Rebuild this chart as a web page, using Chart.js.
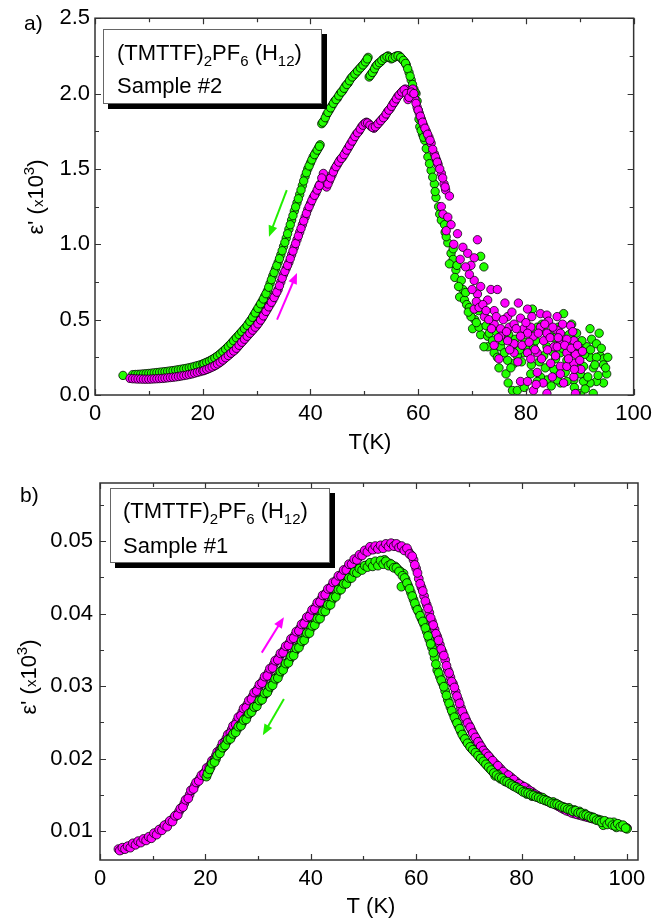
<!DOCTYPE html>
<html><head><meta charset="utf-8">
<script src="https://cdn.jsdelivr.net/npm/chart.js@4.4.1/dist/chart.umd.min.js"></script>
<style>
html,body{margin:0;padding:0;background:#fff;}
#wrap{position:relative;width:658px;height:920px;overflow:hidden;}
canvas{position:absolute;left:0;}
#c1{top:0;} #c2{top:460px;}
</style></head><body>
<div id="wrap"><canvas id="c1" width="658" height="460"></canvas><canvas id="c2" width="658" height="460"></canvas></div>
<script>
// ---------- DATA (T in K, eps' in units of 10^3) ----------
// Panel a) Sample #2, cooling (green)
const s2Cooling = [[5.2,.13],[7,.135],[7.5,.136],[8,.137],[8.5,.138],[9,.14],[9.5,.141],[10,.143],[10.5,.145],[11,.147],[11.5,.149],[12,.151],[12.5,.153],[13,.155],[13.5,.157],[14,.16],[14.5,.162],[15,.165],[15.5,.168],[16,.171],[16.5,.174],[17,.177],[17.5,.181],[18,.185],[18.5,.19],[19,.195],[19.5,.2],[20,.206],[20.5,.213],[21,.221],[21.5,.23],[22,.24],[22.5,.252],[23,.265],[23.5,.28],[24,.296],[24.5,.313],[25,.331],[25.5,.35],[26,.37],[26.5,.39],[27,.41],[27.5,.43],[28,.45],[28.5,.475],[29,.5],[29.5,.53],[30,.56],[30.5,.59],[31,.62],[31.5,.655],[32,.69],[32.5,.74],[33,.79],[33.5,.835],[34,.88],[34.5,.93],[35,.985],[35.5,1.04],[36,1.1],[36.5,1.16],[37,1.22],[37.5,1.275],[38,1.33],[38.5,1.39],[39,1.45],[39.5,1.5],[40,1.54],[40.5,1.58],[41,1.61],[41.5,1.64],[41.8,1.66],[42.1,1.8],[42.5,1.82],[43,1.86],[43.5,1.89],[44,1.92],[44.5,1.95],[45,1.97],[45.5,2.0],[46,2.02],[46.5,2.05],[47,2.07],[47.5,2.1],[48,2.12],[48.5,2.14],[49,2.16],[49.5,2.18],[50,2.2],[50.4,2.22],[50.7,2.24],[50.9,2.11],[51.3,2.13],[51.7,2.15],[52.1,2.18],[52.6,2.2],[53,2.21],[53.5,2.23],[54,2.24],[54.4,2.25],[55,2.23],[55.5,2.24],[56,2.25],[56.5,2.25],[57,2.23],[57.5,2.21],[57.8,2.19],[58.3,2.14],[58.7,2.09],[59.2,2.03],[59.6,2.0],[60,1.89],[60.3,1.78],[60.8,1.73],[61.2,1.69],[61.8,1.58],[62.4,1.49],[63,1.4],[63.3,1.31],[63.8,1.25],[64,1.2],[64.3,1.16],[64.9,1.13],[65,1.08],[65.5,1.01],[66.1,.94],[66.5,.9],[65.8,.87],[67,.83],[66.8,.78],[68,.76],[68.3,.7],[67.7,.65],[68.6,.63],[69,.6],[69.5,.58],[70.5,.5],[71.6,.92],[72.2,.85],[69.8,.52],[70.1,.44],[71.6,.4],[72.9,.32],[74.1,.28],[75,.18],[76.3,.14],[77.5,.03],[78.4,.03],[77.8,.21],[79.6,.28],[80.3,.32],[81.2,.57],[82.1,.45],[83.3,.43],[83.9,.32],[85.2,.38],[86.4,.36],[87,.54],[88.5,.47],[91.9,.44],[92.2,.37],[93.1,.34],[91.3,.32],[90.1,.3],[91.9,.25],[93.8,.26],[94.4,.24],[94.4,.2],[92.5,.18],[95,.14],[94.4,.08],[93.1,.09],[91.9,.08],[90.7,.09],[90.1,.14],[88.9,.1],[87.6,.09],[86.4,.08],[85.2,.17],[83.9,.1],[82.7,.12],[82.1,.09],[80.9,.14],[90.1,.01],[92.5,.01],[83.3,.26],[81.4,.32],[78.4,.26],[76.6,.23],[74.7,.25],[72.9,.39],[72.2,.32],[71.3,.45],[75.3,.32],[77.8,.32],[86.4,.28],[87.6,.23],[88.9,.28],[90.7,.19],[93.1,.25]];
const s2CoolingMore = [[20.25,.209],[20.75,.217],[21.25,.225],[21.75,.235],[22.25,.246],[22.75,.258],[23.25,.272],[23.75,.288],[24.25,.304],[24.75,.322],[25.25,.34],[25.75,.36],[26.25,.38],[26.75,.4],[27.25,.42],[27.75,.44],[28.25,.462],[28.75,.488],[29.25,.515],[29.75,.545],[30.25,.575],[30.75,.605],[31.25,.637],[31.75,.672],[32.25,.715],[32.75,.765],[33.25,.812],[33.75,.858],[34.25,.905],[34.75,.957],[35.25,1.012],[35.75,1.07],[36.25,1.13],[36.75,1.19],[37.25,1.248],[37.75,1.302],[38.25,1.36],[38.75,1.42],[39.25,1.475],[39.75,1.52],[40.25,1.56],[40.75,1.595],[41.25,1.625],[41.65,1.65],[42.3,1.81],[42.75,1.84],[43.25,1.875],[43.75,1.905],[44.25,1.935],[44.75,1.96],[45.25,1.985],[45.75,2.01],[46.25,2.035],[46.75,2.06],[47.25,2.085],[47.75,2.11],[48.25,2.13],[48.75,2.15],[49.25,2.17],[49.75,2.19],[50.2,2.21],[50.55,2.23],[51.1,2.12],[51.5,2.14],[51.9,2.165],[52.35,2.19],[52.8,2.205],[53.25,2.22],[53.75,2.235],[54.2,2.245],[54.7,2.24],[55.25,2.235],[55.75,2.245],[56.25,2.25],[56.75,2.24],[57.25,2.22],[57.65,2.2],[58.05,2.165],[58.5,2.115],[58.95,2.06],[59.4,2.01],[59.8,1.95],[60.15,1.83],[60.55,1.755],[61,1.71],[61.5,1.635],[62.1,1.535],[62.7,1.445],[63.15,1.35],[65.2,1.05],[66.5,.97],[67.2,.86],[67.5,.72],[68.8,.68],[69.3,.55],[70.8,.48],[71.2,.56],[72.6,.46],[73.2,.41],[73.8,.36],[74.5,.42],[75.6,.36],[76,.28],[76.8,.4],[77.2,.18],[78,.37],[78.8,.3],[79.2,.22],[79.8,.35],[80.6,.42],[81,.2],[81.8,.36],[82.5,.22],[83,.47],[83.6,.18],[84.3,.4],[84.8,.29],[85.5,.24],[86,.45],[86.8,.31],[87.3,.15],[88,.4],[88.2,.2],[88.7,.33],[89.4,.41],[89.6,.18],[90.4,.36],[90.9,.27],[91.5,.12],[92,.3],[92.8,.2],[93.4,.13],[93.6,.41],[94,.31],[94.8,.18],[95.2,.25],[89,.05],[91,.04],[85.8,.1],[84.7,.06],[79.7,.05],[76.7,.08]];
// Panel a) Sample #2, warming (magenta)
const s2Warming = [[6.5,.11],[7,.108],[7.5,.107],[8,.106],[8.5,.106],[9,.105],[9.5,.105],[10,.105],[10.5,.106],[11,.107],[11.5,.108],[12,.109],[12.5,.11],[13,.112],[13.5,.114],[14,.116],[14.5,.118],[15,.12],[15.5,.123],[16,.126],[16.5,.129],[17,.132],[17.5,.136],[18,.14],[18.5,.145],[19,.15],[19.5,.155],[20,.16],[20.5,.167],[21,.174],[21.5,.182],[22,.19],[22.5,.2],[23,.212],[23.5,.225],[24,.24],[24.5,.255],[25,.27],[25.5,.285],[26,.3],[26.5,.32],[27,.34],[27.5,.36],[28,.38],[28.5,.4],[29,.42],[29.5,.44],[30,.46],[30.5,.485],[31,.51],[31.5,.54],[32,.57],[32.5,.6],[33,.63],[33.5,.665],[34,.7],[34.5,.75],[35,.8],[35.5,.84],[36,.88],[36.5,.93],[37,.98],[37.5,1.03],[38,1.08],[38.5,1.13],[39,1.18],[39.5,1.23],[40,1.27],[40.5,1.31],[41,1.34],[41.5,1.38],[41.8,1.4],[42.4,1.47],[43,1.38],[43.5,1.42],[44,1.46],[44.5,1.5],[45,1.53],[45.5,1.56],[46,1.58],[46.5,1.61],[47,1.64],[47.5,1.67],[48,1.7],[48.5,1.73],[49,1.75],[49.5,1.78],[50,1.8],[50.4,1.81],[50.8,1.8],[51.3,1.78],[51.8,1.77],[52.3,1.79],[52.8,1.81],[53.3,1.83],[53.8,1.85],[54.3,1.88],[54.8,1.9],[55.3,1.93],[55.7,1.95],[56.2,1.98],[56.7,2.0],[57.2,2.02],[57.6,2.03],[58.1,1.96],[58.5,1.99],[59,2.03],[59.4,1.96],[59.8,1.91],[60.2,1.87],[60.6,1.83],[61,1.79],[61.5,1.75],[62,1.71],[62.4,1.67],[63,1.6],[63.4,1.56],[63.7,1.53],[64.3,1.47],[64.8,1.4],[65.1,1.36],[65.8,1.32],[64.3,1.25],[64.6,1.2],[65.5,1.18],[66.1,1.13],[65.2,1.09],[67.3,1.07],[68.3,.98],[69.2,.94],[70.4,.91],[71,1.03],[69.8,.86],[70.4,.76],[71.6,.72],[73.5,.7],[74.7,.7],[71,.67],[72.9,.63],[70.4,.57],[74.1,.56],[76.1,.61],[78.6,.61],[80.3,.57],[76.6,.52],[72.3,.52],[74.1,.47],[75.3,.44],[76.9,.45],[77.8,.47],[79,.51],[79.6,.44],[80.9,.45],[82.7,.54],[83.9,.53],[85.8,.52],[84.2,.49],[82.7,.45],[85.8,.43],[88.3,.46],[88.9,.36],[86.4,.34],[87.6,.28],[85.2,.32],[83.3,.36],[81.4,.39],[80.3,.41],[79,.39],[77.8,.34],[76.6,.36],[75.3,.39],[74.1,.33],[75,.24],[77.8,.28],[80.3,.28],[82.1,.28],[80.9,.24],[82.1,.15],[84.6,.21],[86.4,.19],[87.6,.19],[88.9,.21],[89.2,.27],[90.2,.17],[86.4,.14],[88.9,.12],[89.2,.01],[79,.09],[80.3,.09],[81.4,.03],[83.9,.01],[87.6,.37],[86.4,.41],[83.9,.41],[85.8,.32]];
const s2WarmingMore = [[20.25,.163],[20.75,.17],[21.25,.178],[21.75,.186],[22.25,.195],[22.75,.206],[23.25,.218],[23.75,.232],[24.25,.247],[24.75,.262],[25.25,.277],[25.75,.292],[26.25,.31],[26.75,.33],[27.25,.35],[27.75,.37],[28.25,.39],[28.75,.41],[29.25,.43],[29.75,.45],[30.25,.472],[30.75,.497],[31.25,.525],[31.75,.555],[32.25,.585],[32.75,.615],[33.25,.647],[33.75,.682],[34.25,.725],[34.75,.775],[35.25,.82],[35.75,.86],[36.25,.905],[36.75,.955],[37.25,1.005],[37.75,1.055],[38.25,1.105],[38.75,1.155],[39.25,1.205],[39.75,1.25],[40.25,1.29],[40.75,1.325],[41.25,1.36],[41.65,1.39],[42.1,1.44],[43.25,1.4],[43.75,1.44],[44.25,1.48],[44.75,1.515],[45.25,1.545],[45.75,1.57],[46.25,1.595],[46.75,1.625],[47.25,1.655],[47.75,1.685],[48.25,1.715],[48.75,1.74],[49.25,1.765],[49.75,1.79],[50.2,1.805],[50.6,1.805],[51.05,1.79],[51.55,1.775],[52.05,1.78],[52.55,1.8],[53.05,1.82],[53.55,1.84],[54.05,1.865],[54.55,1.89],[55.05,1.915],[55.5,1.94],[55.95,1.965],[56.45,1.99],[56.95,2.01],[57.4,2.025],[57.85,2.0],[58.3,1.975],[58.75,2.01],[59.2,2.0],[59.6,1.935],[60,1.89],[60.4,1.85],[60.8,1.81],[61.25,1.77],[61.75,1.73],[62.2,1.69],[62.7,1.63],[63.2,1.58],[63.55,1.545],[64,1.5],[64.55,1.44],[65,1.38],[66.6,1.0],[67.8,.9],[68.8,.85],[69.5,.8],[70,.7],[70.8,.62],[71.3,.58],[72,.6],[72.6,.56],[73.1,.5],[73.6,.44],[74.5,.52],[74.9,.38],[75.8,.5],[76.4,.42],[77,.3],[77.4,.55],[78.2,.44],[78.5,.22],[79.3,.33],[80,.48],[80.6,.35],[81.1,.52],[81.7,.3],[82.3,.41],[82.9,.24],[83.5,.47],[84,.3],[84.5,.38],[85,.45],[85.5,.26],[86,.38],[86.8,.47],[87.2,.33],[87.9,.24],[88.4,.31],[88.7,.42],[89,.17],[89.6,.33],[90,.23],[90.5,.29],[84.9,.12],[83.2,.08],[81.9,.07],[87,.08]];
// Panel b) Sample #1, warming (magenta)
const s1Warming = [[3.5,.0075],[4,.0074],[4.5,.0076],[5,.0077],[5.5,.0078],[6,.0081],[6.5,.0082],[7,.0083],[7.5,.0085],[8,.0086],[8.5,.0088],[9,.0089],[9.5,.0091],[10,.0093],[10.5,.0096],[11,.0099],[11.5,.0102],[12,.0105],[12.5,.0108],[13,.0111],[13.5,.0114],[14,.0118],[14.5,.0122],[15,.0127],[15.5,.0132],[16,.0138],[16.5,.0144],[17,.015],[17.5,.0157],[18,.0163],[18.5,.0168],[19,.0173],[19.5,.0178],[20,.0182],[20.5,.0187],[21,.0192],[21.5,.0198],[22,.0204],[22.5,.021],[23,.0216],[23.5,.0222],[24,.0228],[24.5,.0234],[25,.024],[25.5,.0246],[26,.0252],[26.5,.0258],[27,.0264],[27.5,.027],[28,.0275],[28.5,.0281],[29,.0286],[29.5,.0292],[30,.0297],[30.5,.0303],[31,.0308],[31.5,.0313],[32,.0319],[32.5,.0324],[33,.033],[33.5,.0335],[34,.034],[34.5,.0345],[35,.035],[35.5,.0355],[36,.036],[36.5,.0365],[37,.037],[37.5,.0375],[38,.038],[38.5,.0386],[39,.039],[39.5,.0395],[40,.04],[40.5,.0405],[41,.041],[41.5,.0415],[42,.042],[42.5,.0425],[43,.0429],[43.5,.0434],[44,.0438],[44.5,.0442],[45,.0447],[45.5,.0451],[46,.0455],[46.5,.0459],[47,.0463],[47.5,.0467],[48,.047],[48.5,.0473],[49,.0477],[49.5,.048],[50,.0483],[50.5,.0486],[51,.0488],[51.5,.049],[52,.0489],[52.5,.0491],[53,.0492],[53.5,.0491],[54,.0493],[54.5,.0494],[55,.0495],[55.5,.0496],[56,.0493],[56.5,.0494],[57,.0491],[57.5,.049],[58,.0488],[58.5,.0486],[59,.0481],[59.5,.0474],[60,.0462],[60.5,.0448],[61,.0436],[61.5,.0424],[62,.0412],[62.5,.0401],[63,.0389],[63.5,.0378],[64,.0368],[64.5,.0357],[65,.0347],[65.5,.0336],[66,.0322],[66.5,.0312],[67,.0303],[67.5,.0292],[68,.0281],[68.5,.027],[69,.0261],[69.5,.0253],[70,.0246],[70.5,.0239],[71,.0232],[71.5,.0226],[72,.022],[72.5,.0214],[73,.0209],[73.5,.0205],[74,.0201],[75,.0193],[76,.0186],[77,.0179],[78,.0174],[79,.0168],[80,.0163],[81,.0159],[82,.0154],[83,.0149],[84,.0145],[85,.0141],[86,.0138],[87,.0134],[88,.013],[89,.0127],[90,.0124],[91,.0122],[92,.012],[93,.0118],[94,.0116],[95,.0114],[96,.0112],[97,.011],[98,.0108],[99,.0106],[100,.0104]];
const s1WarmingMore = [[3.75,.0073],[4.25,.0077],[4.75,.0075],[5.25,.0079],[5.75,.0077],[6.25,.0083],[6.75,.0081],[7.25,.0086],[7.75,.0084],[8.25,.0089],[8.75,.0087],[9.25,.0092],[9.75,.009],[10.25,.0097],[10.75,.0095],[11.25,.0102],[11.75,.0101],[12.25,.0108],[12.75,.0106],[13.25,.0114],[13.75,.0113],[14.25,.0121],[14.75,.0122],[15.25,.0131],[15.75,.0133],[16.25,.0143],[16.75,.0145],[17.25,.0156],[17.75,.0158],[18.25,.0167],[18.75,.0169],[19.25,.0177],[19.75,.0179],[20.25,.0187],[20.75,.0188],[21.25,.0197],[21.75,.0199],[22.25,.0209],[22.75,.0211],[23.25,.0221],[23.75,.0223],[24.25,.0233],[24.75,.0235],[25.25,.0245],[25.75,.0247],[26.25,.0257],[26.75,.0259],[27.25,.0269],[27.75,.027],[28.25,.028],[28.75,.0282],[29.25,.0291],[29.75,.0293],[30.25,.0302],[30.75,.0304],[31.25,.0313],[31.75,.0314],[32.25,.0324],[32.75,.0325],[33.25,.0335],[33.75,.0336],[34.25,.0345],[34.75,.0346],[35.25,.0355],[35.75,.0356],[36.25,.0365],[36.75,.0366],[37.25,.0375],[37.75,.0376],[38.25,.0385],[38.75,.0386],[39.25,.0395],[39.75,.0396],[40.25,.0405],[40.75,.0406],[41.25,.0415],[41.75,.0416],[42.25,.0425],[42.75,.0426],[43.25,.0434],[43.75,.0435],[44.25,.0443],[44.75,.0444],[45.25,.0452],[45.75,.0452],[46.25,.046],[46.75,.046],[47.25,.0468],[47.75,.0468],[48.25,.0475],[48.75,.0474],[49.25,.0481],[49.75,.048],[50.25,.0487],[50.75,.0485],[51.25,.0492],[51.75,.0488],[52.25,.0493],[52.75,.0489],[53.25,.0494],[53.75,.049],[54.25,.0496],[54.75,.0492],[55.25,.0497],[55.75,.0493],[56.25,.0496],[56.75,.0491],[57.25,.0493],[57.75,.0487],[58.25,.049],[58.75,.0482],[59.25,.0479],[59.75,.0467],[60.25,.0456],[60.75,.0441],[61.25,.0431],[61.75,.0417],[62.25,.0407],[62.75,.0394],[63.25,.0384],[63.75,.0372],[64.25,.0363],[64.75,.0351],[65.25,.0342],[65.75,.0328],[66.25,.0318],[66.75,.0306],[67.25,.0298],[67.75,.0286],[68.25,.0276],[68.75,.0265],[69.25,.0257],[69.75,.0249],[70.25,.0243],[70.75,.0235],[71.25,.0229],[71.75,.0223],[72.25,.0217],[72.75,.0211],[73.25,.0207],[73.75,.0203],[74.5,.0197],[75.5,.019],[76.5,.0182],[77.5,.0177],[78.5,.0171],[79.5,.0165],[80.5,.0161],[81.5,.0156],[82.5,.0151],[83.5,.0147],[84.5,.0143],[85.5,.0139],[86.5,.0136],[87.5,.0132],[88.5,.0128],[89.5,.0125],[90.5,.0123],[91.5,.0121],[92.5,.0119],[93.5,.0117],[94.5,.0115],[95.5,.0113],[96.5,.0111],[97.5,.0109],[98.5,.0107],[99.5,.0105]];
// Panel b) Sample #1, cooling (green)
const s1Cooling = [[20.2,.0175],[20.6,.0182],[21,.0188],[21.5,.0194],[22,.0199],[22.5,.0206],[23,.0212],[23.5,.0216],[24,.0222],[24.5,.0227],[25,.0231],[25.5,.0236],[26,.024],[26.5,.0246],[27,.0249],[27.5,.0255],[28,.0259],[28.5,.0263],[29,.0268],[29.5,.0272],[30,.0277],[30.5,.0281],[31,.0286],[31.5,.029],[32,.0295],[32.5,.0301],[33,.0306],[33.5,.0312],[34,.0316],[34.5,.0322],[35,.0327],[35.5,.0332],[36,.0337],[36.5,.0343],[37,.0348],[37.5,.0353],[38,.0358],[38.5,.0363],[39,.0369],[39.5,.0374],[40,.0379],[40.5,.0384],[41,.0389],[41.5,.0394],[42,.0399],[42.5,.0404],[43,.0408],[43.5,.0413],[44,.0418],[44.5,.0424],[45,.0429],[45.5,.0434],[46,.0438],[46.5,.0442],[47,.0446],[47.5,.045],[48,.0454],[48.5,.0458],[49,.046],[49.5,.0462],[50,.0464],[50.5,.0466],[51,.0468],[51.5,.0467],[52,.047],[52.5,.0469],[53,.0471],[53.5,.0472],[54,.0474],[54.5,.047],[55,.0469],[55.5,.0466],[56,.0465],[56.5,.0461],[57,.0458],[57.2,.0437],[57.6,.0455],[58,.0447],[58.5,.0438],[59,.0429],[59.5,.0419],[60,.0409],[60.5,.0402],[61,.0393],[61.5,.0385],[62,.0375],[62.5,.0364],[63,.0353],[63.5,.0339],[64,.0322],[64.5,.0313],[65,.0304],[65.5,.0293],[66,.0281],[66.5,.0271],[67,.0262],[67.5,.0253],[68,.0245],[68.5,.0237],[69,.023],[69.5,.0224],[70,.0219],[70.5,.0214],[71,.021],[71.5,.0207],[72,.0202],[72.5,.0198],[73,.0194],[73.5,.019],[74,.0186],[74.5,.0182],[75,.0176],[75.5,.0178],[76,.0172],[76.5,.0171],[77,.0168],[77.5,.0167],[78,.0165],[78.5,.0162],[79,.0161],[79.5,.0158],[80,.0156],[80.5,.0155],[81,.0151],[81.5,.0153],[82,.0148],[82.5,.0149],[83,.0147],[83.5,.0145],[84,.0146],[84.5,.0142],[85,.0141],[85.5,.0139],[86,.014],[86.5,.0138],[87,.0136],[87.5,.0134],[88,.0133],[88.5,.0131],[89,.0132],[89.5,.0128],[90,.0129],[90.5,.0126],[91,.0127],[91.5,.0123],[92,.0124],[92.5,.0121],[93,.012],[93.5,.0119],[94,.0117],[94.5,.0116],[95,.0115],[95.5,.0108],[96,.0113],[96.5,.0111],[97,.011],[97.5,.0112],[98,.0105],[98.5,.0109],[99,.0107],[99.5,.0106],[100,.0103]];
const s1CoolingMore = [[20.4,.0179],[20.8,.0185],[21.25,.0193],[21.75,.0195],[22.25,.0204],[22.75,.0207],[23.25,.0215],[23.75,.0218],[24.25,.0226],[24.75,.0227],[25.25,.0234],[25.75,.0236],[26.25,.0244],[26.75,.0245],[27.25,.0253],[27.75,.0254],[28.25,.0262],[28.75,.0264],[29.25,.0271],[29.75,.0272],[30.25,.028],[30.75,.0281],[31.25,.029],[31.75,.0291],[32.25,.0299],[32.75,.0301],[33.25,.031],[33.75,.0311],[34.25,.032],[34.75,.0322],[35.25,.0331],[35.75,.0332],[36.25,.0341],[36.75,.0342],[37.25,.0352],[37.75,.0353],[38.25,.0362],[38.75,.0363],[39.25,.0373],[39.75,.0373],[40.25,.0383],[40.75,.0384],[41.25,.0393],[41.75,.0393],[42.25,.0403],[42.75,.0403],[43.25,.0412],[43.75,.0412],[44.25,.0422],[44.75,.0423],[45.25,.0433],[45.75,.0433],[46.25,.0441],[46.75,.0441],[47.25,.0449],[47.75,.0449],[48.25,.0457],[48.75,.0456],[49.25,.0462],[49.75,.046],[50.25,.0466],[50.75,.0464],[51.25,.047],[51.75,.0465],[52.25,.0472],[52.75,.0466],[53.25,.0473],[53.75,.0468],[54.25,.0472],[54.75,.0466],[55.25,.0468],[55.75,.0463],[56.25,.0463],[56.75,.0458],[57.4,.0452],[57.8,.0449],[58.25,.0442],[58.75,.0434],[59.25,.0424],[59.75,.0414],[60.25,.0405],[60.75,.0397],[61.25,.0389],[61.75,.038],[62.25,.0369],[62.75,.0358],[63.25,.0346],[63.75,.033],[64.25,.0318],[64.75,.0308],[65.25,.0299],[65.75,.0287],[66.25,.0276],[66.75,.0266],[67.25,.0257],[67.75,.0249],[68.25,.0241],[68.75,.0233],[69.25,.0227],[69.75,.0221],[70.25,.0216],[70.75,.0212],[71.25,.0208],[71.75,.0204],[72.25,.02],[72.75,.0196],[73.25,.0192],[73.75,.0188],[74.25,.0184],[74.75,.018],[75.25,.0177],[75.75,.0174],[76.25,.0173],[76.75,.0169],[77.25,.0168],[77.75,.0165],[78.25,.0163],[78.75,.0161],[79.25,.0159],[79.75,.0157],[80.25,.0154],[80.75,.0153],[81.25,.0152],[81.75,.015],[82.25,.0149],[82.75,.0147],[83.25,.0146],[83.75,.0144],[84.25,.0143],[84.75,.0142],[85.25,.014],[85.75,.0138],[86.25,.0137],[86.75,.0137],[87.25,.0135],[87.75,.0133],[88.25,.0132],[88.75,.013],[89.25,.0129],[89.75,.0127],[90.25,.0128],[90.75,.0125],[91.25,.0125],[91.75,.0122],[92.25,.0122],[92.75,.012],[93.25,.0118],[93.75,.0118],[94.25,.0115],[94.75,.0114],[95.25,.0112],[95.75,.0114],[96.25,.0109],[96.75,.0112],[97.25,.0108],[97.75,.0107],[98.25,.011],[98.75,.0106],[99.25,.0108],[99.75,.0104]];

// Tick values
const xMajor = [0, 20, 40, 60, 80, 100];
const xMinor = [10, 30, 50, 70, 90];
const yMajorA = [0.0, 0.5, 1.0, 1.5, 2.0, 2.5];
const yMinorA = [0.25, 0.75, 1.25, 1.75, 2.25];
const yMajorB = [0.01, 0.02, 0.03, 0.04, 0.05];
const yMinorB = [0.005, 0.015, 0.025, 0.035, 0.045, 0.055];

// Direction arrows (data coords)
const arrowsA = [{from:[35.6,1.36], to:[32.3,1.05], c:'#22ee00'}, {from:[33.8,0.50], to:[37.5,0.81], c:'#ff00ff'}];
const arrowsB = [{from:[30.7,0.0346], to:[34.9,0.0395], c:'#ff00ff'}, {from:[34.9,0.0282], to:[30.9,0.0232], c:'#22ee00'}];

// ---------- RENDER ----------
const F = "'Liberation Sans', Arial, Helvetica, sans-serif";
const GREEN = '#22ff00', MAGENTA = '#ff00ff';
const toPts = arr => arr.map(p => ({x: p[0], y: p[1]}));

function drawRich(ctx, x, y, parts) {
  let cx = x;
  for (const p of parts) {
    ctx.font = p.s + 'px ' + F;
    ctx.fillText(p.t, cx, y + (p.dy || 0));
    cx += ctx.measureText(p.t).width;
  }
  return cx - x;
}
function richWidth(ctx, parts) {
  let w = 0;
  for (const p of parts) { ctx.font = p.s + 'px ' + F; w += ctx.measureText(p.t).width; }
  return w;
}
function arrow(ctx, x1, y1, x2, y2, color) {
  const a = Math.atan2(y2 - y1, x2 - x1), hl = 11, hw = 4.5;
  ctx.save();
  ctx.strokeStyle = color; ctx.fillStyle = color; ctx.lineWidth = 2;
  ctx.beginPath(); ctx.moveTo(x1, y1);
  ctx.lineTo(x2 - Math.cos(a) * hl * 0.8, y2 - Math.sin(a) * hl * 0.8); ctx.stroke();
  ctx.beginPath(); ctx.moveTo(x2, y2);
  ctx.lineTo(x2 - Math.cos(a) * hl - Math.sin(a) * hw, y2 - Math.sin(a) * hl + Math.cos(a) * hw);
  ctx.lineTo(x2 - Math.cos(a) * hl + Math.sin(a) * hw, y2 - Math.sin(a) * hl - Math.cos(a) * hw);
  ctx.closePath(); ctx.fill();
  ctx.restore();
}

function makeDecor(cfg) {
  return {
    id: 'decor' + cfg.tag,
    afterDatasetsDraw(chart) {
      const ctx = chart.ctx, xs = chart.scales.x, ys = chart.scales.y, ca = chart.chartArea;
      ctx.save();
      ctx.strokeStyle = '#333'; ctx.lineWidth = 1.5;
      ctx.strokeRect(ca.left, ca.top, ca.right - ca.left, ca.bottom - ca.top);
      ctx.lineWidth = 1.2; ctx.beginPath();
      const tk = (vals, len) => {
        for (const v of vals) {
          const px = Math.round(xs.getPixelForValue(v)) + 0.5;
          ctx.moveTo(px, ca.bottom); ctx.lineTo(px, ca.bottom - len);
          ctx.moveTo(px, ca.top); ctx.lineTo(px, ca.top + len);
        }
      };
      const tky = (vals, len) => {
        for (const v of vals) {
          const py = Math.round(ys.getPixelForValue(v)) + 0.5;
          if (py < ca.top - 1 || py > ca.bottom + 1) continue;
          ctx.moveTo(ca.left, py); ctx.lineTo(ca.left + len, py);
          ctx.moveTo(ca.right, py); ctx.lineTo(ca.right - len, py);
        }
      };
      tk(xMajor, 6); tk(xMinor, 4); tky(cfg.yMajor, 6); tky(cfg.yMinor, 4);
      ctx.stroke();
      for (const a of cfg.arrows) {
        arrow(ctx, xs.getPixelForValue(a.from[0]), ys.getPixelForValue(a.from[1]),
                   xs.getPixelForValue(a.to[0]), ys.getPixelForValue(a.to[1]), a.c);
      }
      const b = cfg.box;
      ctx.fillStyle = '#000';
      ctx.fillRect(b.x + 5, b.y + 5, b.w, b.h);
      ctx.fillStyle = '#fff';
      ctx.fillRect(b.x, b.y, b.w, b.h);
      ctx.strokeStyle = '#666'; ctx.lineWidth = 1;
      ctx.strokeRect(b.x + 0.5, b.y + 0.5, b.w - 1, b.h - 1);
      ctx.fillStyle = '#000'; ctx.textBaseline = 'alphabetic'; ctx.textAlign = 'left';
      drawRich(ctx, b.tx, b.l1, [
        {t:'(TMTTF)', s:22}, {t:'2', s:15, dy:6}, {t:'PF', s:22}, {t:'6', s:15, dy:6},
        {t:' (H', s:22}, {t:'12', s:15, dy:6}, {t:')', s:22}]);
      drawRich(ctx, b.tx, b.l2, [{t:cfg.sample, s:22}]);
      drawRich(ctx, cfg.letter[0], cfg.letter[1], [{t:cfg.letter[2], s:21}]);
      ctx.font = '22px ' + F; ctx.textAlign = 'center';
      ctx.fillText(cfg.xTitle, cfg.xTitlePos[0], cfg.xTitlePos[1]);
      ctx.textAlign = 'left';
      ctx.translate(cfg.yTitlePos[0], cfg.yTitlePos[1]);
      ctx.rotate(-Math.PI / 2);
      const parts = [{t:'\u03B5\' (', s:22}, {t:'x', s:15}, {t:'10', s:22}, {t:'3', s:15, dy:-9}, {t:')', s:22}];
      const w = richWidth(ctx, parts);
      drawRich(ctx, -w / 2, 0, parts);
      ctx.restore();
    }
  };
}

function makeChart(id, c) {
  return new Chart(document.getElementById(id), {
    type: 'scatter',
    data: { datasets: c.datasets },
    options: {
      responsive: false, animation: false, devicePixelRatio: 1, events: [],
      layout: { padding: { left: 0, top: c.padTop, right: c.padRight, bottom: 0 } },
      plugins: { legend: { display: false }, tooltip: { enabled: false } },
      scales: {
        x: {
          type: 'linear', min: 0, max: c.xMax,
          grid: { display: false, drawTicks: false }, border: { display: false },
          afterBuildTicks: s => { s.ticks = xMajor.map(v => ({ value: v })); },
          afterFit: s => { s.height = c.xHeight; },
          ticks: { padding: c.xPad, color: '#000', font: { family: F, size: 22 }, maxRotation: 0, autoSkip: false,
                   callback: v => String(v) }
        },
        y: {
          type: 'linear', min: c.yMin, max: c.yMax,
          grid: { display: false, drawTicks: false }, border: { display: false },
          afterBuildTicks: s => { s.ticks = c.yMajor.map(v => ({ value: v })); },
          afterFit: s => { s.width = c.yWidth; },
          ticks: { padding: c.yPad, color: '#000', font: { family: F, size: 22 }, autoSkip: false,
                   callback: v => v.toFixed(c.dec) }
        }
      }
    },
    plugins: [makeDecor(c)]
  });
}

const ds = (data, color, order, r) => ({
  data: toPts(data), backgroundColor: color, borderColor: 'rgba(0,0,0,0.85)', borderWidth: 0.9,
  pointRadius: r, pointHoverRadius: r, order: order, showLine: false, clip: 0
});

makeChart('c1', {
  tag: 'A', xMax: 100, yMin: 0, yMax: 2.5, dec: 1,
  padTop: 17, padRight: 21, xHeight: 65, yWidth: 95, xPad: 6, yPad: 5,
  yMajor: yMajorA, yMinor: yMinorA, arrows: arrowsA,
  datasets: [ds(s2Warming.concat(s2WarmingMore), MAGENTA, 0, 4.2), ds(s2Cooling.concat(s2CoolingMore), GREEN, 1, 4.2)],
  box: { x: 103, y: 29, w: 219, h: 75, tx: 117, l1: 60, l2: 93 },
  sample: 'Sample #2', letter: [24, 30, 'a)'],
  xTitle: 'T(K)', xTitlePos: [370, 449], yTitlePos: [43, 197]
});

makeChart('c2', {
  tag: 'B', xMax: 102.1, yMin: 0.006, yMax: 0.058, dec: 2,
  padTop: 23, padRight: 20, xHeight: 60, yWidth: 100, xPad: 6, yPad: 7,
  yMajor: yMajorB, yMinor: yMinorB, arrows: arrowsB,
  datasets: [ds(s1Cooling.concat(s1CoolingMore), GREEN, 0, 4.4), ds(s1Warming.concat(s1WarmingMore), MAGENTA, 1, 4.4)],
  box: { x: 110, y: 28, w: 220, h: 75, tx: 123, l1: 58, l2: 93 },
  sample: 'Sample #1', letter: [20, 42, 'b)'],
  xTitle: 'T (K)', xTitlePos: [371, 453], yTitlePos: [36, 217]
});
</script>
</body></html>
